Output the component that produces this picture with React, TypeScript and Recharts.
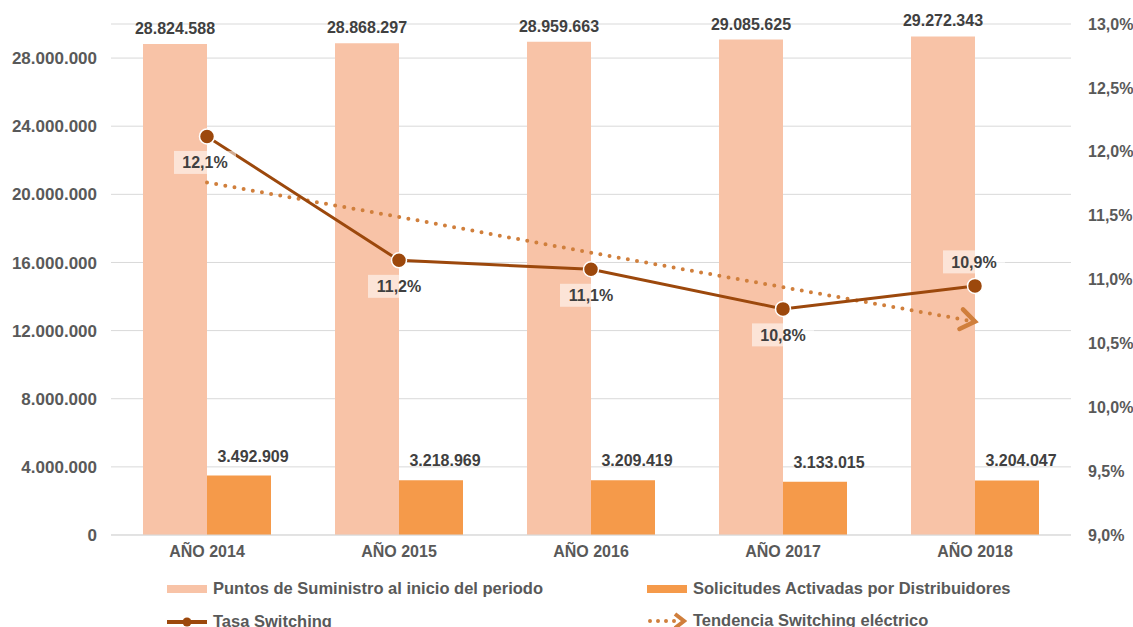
import React from 'react';
import { ComposedChart, Bar, Line, XAxis, YAxis, CartesianGrid, LabelList } from 'recharts';

const years = ['AÑO 2014', 'AÑO 2015', 'AÑO 2016', 'AÑO 2017', 'AÑO 2018'];
const puntosSuministro = [28824588, 28868297, 28959663, 29085625, 29272343];
const solicitudesActivadas = [3492909, 3218969, 3209419, 3133015, 3204047];
const tasaSwitching = [12.12, 11.15, 11.08, 10.77, 10.95];
const tendenciaSwitching = [11.76, 11.49, 11.21, 10.94, 10.67];
const leftTicks = [0, 4000000, 8000000, 12000000, 16000000, 20000000, 24000000, 28000000];
const rightTicks = [9, 9.5, 10, 10.5, 11, 11.5, 12, 12.5, 13];

const FONT = '"Liberation Sans", Arial, sans-serif';
const C_PUNTOS = '#F8C3A7';
const C_SOLIC = '#F59A4A';
const C_TASA = '#9C480C';
const C_TEND = '#D07F3C';
const TXT = '#595959';
const LBL = '#404040';

const fmtMiles = (v: number) => String(Math.round(v)).replace(/\B(?=(\d{3})+(?!\d))/g, '.');
const fmtPct = (v: number) => v.toFixed(1).replace('.', ',') + '%';

const data = years.map((year, i) => ({
    year,
    puntos: puntosSuministro[i],
    solicitudes: solicitudesActivadas[i],
    tasa: tasaSwitching[i],
    tendencia: tendenciaSwitching[i],
}));

const BarLabel = (dx: number, gap: number) => (props: any) => {
    const { x, y, width, value } = props;
    return (
        <text x={x + width / 2 + dx} y={y - gap} textAnchor="middle" fontSize={16} fontWeight="bold" fill={LBL} fontFamily={FONT}>
            {fmtMiles(value)}
        </text>
    );
};

const TasaLabel = (props: any) => {
    const { x, y, value, index } = props;
    const last = index === years.length - 1;
    const cx = x + (index === 0 ? -2 : last ? -1 : 0);
    const cy = last ? y - 24 : y + 26;
    return (
        <g>
            <rect x={cx - 31} y={cy - 11.5} width={62} height={23} fill="rgba(255,255,255,0.55)" />
            <text x={cx} y={cy + 6} textAnchor="middle" fontSize={16} fontWeight="bold" fill={LBL} fontFamily={FONT}>
                {fmtPct(value)}
            </text>
        </g>
    );
};

const legendText: React.CSSProperties = { fontSize: 16.5, fontWeight: 'bold', color: TXT, fontFamily: FONT, marginLeft: 6, whiteSpace: 'nowrap' };
const axisTick = { fontSize: 17, fontWeight: 'bold', fill: TXT, fontFamily: FONT };

const App: React.FC = () => {
    return (
        <div style={{ position: 'absolute', left: 0, top: 0, width: 1133, height: 627, background: '#fff', overflow: 'hidden' }}>
            <svg width={0} height={0} style={{ position: 'absolute' }}>
                <defs>
                    <marker id="trendArrow" markerUnits="userSpaceOnUse" markerWidth={30} markerHeight={30} viewBox="-20 -15 30 30" refX={0} refY={0} orient="auto">
                        <path d="M -14 -10 L 0 0 L -14 10" fill="none" stroke={C_TEND} strokeWidth={4.5} strokeLinecap="round" strokeLinejoin="miter" strokeDasharray="none" />
                    </marker>
                </defs>
            </svg>
            <ComposedChart width={1133} height={627} data={data} margin={{ top: 24, right: 0, left: 0, bottom: 62 }} barGap={0} barSize={64}>
                <CartesianGrid vertical={false} stroke="#D9D9D9" yAxisId="left" />
                <XAxis dataKey="year" height={30} tickSize={0} tickMargin={11} axisLine={{ stroke: '#D9D9D9' }}
                    tick={{ fontSize: 16, fontWeight: 'bold', fill: TXT, fontFamily: FONT }} />
                <YAxis yAxisId="left" width={111} domain={[0, 30000000]} ticks={leftTicks} tickFormatter={fmtMiles}
                    axisLine={false} tickSize={0} tickMargin={14} tick={axisTick} />
                <YAxis yAxisId="right" orientation="right" width={62} domain={[9, 13]} ticks={rightTicks} tickFormatter={fmtPct}
                    axisLine={false} tickSize={0} tickMargin={17} tick={{ ...axisTick, fontSize: 16 }} />
                <Bar yAxisId="left" dataKey="puntos" fill={C_PUNTOS} isAnimationActive={false}>
                    <LabelList dataKey="puntos" content={BarLabel(0, 10)} />
                </Bar>
                <Bar yAxisId="left" dataKey="solicitudes" fill={C_SOLIC} isAnimationActive={false}>
                    <LabelList dataKey="solicitudes" content={BarLabel(14, 14)} />
                </Bar>
                <Line yAxisId="right" dataKey="tendencia" stroke={C_TEND} strokeWidth={4} strokeDasharray="0 9.3" strokeLinecap="round"
                    dot={false} activeDot={false} markerEnd="url(#trendArrow)" isAnimationActive={false} />
                <Line yAxisId="right" dataKey="tasa" stroke={C_TASA} strokeWidth={3}
                    dot={{ r: 7.5, fill: C_TASA, stroke: '#fff', strokeWidth: 1.5 }} activeDot={false} isAnimationActive={false}>
                    <LabelList dataKey="tasa" content={TasaLabel} />
                </Line>
            </ComposedChart>
            <div style={{ position: 'absolute', left: 167, top: 579, display: 'flex', alignItems: 'center' }}>
                <div style={{ width: 40, height: 8, background: C_PUNTOS }} />
                <span style={legendText}>Puntos de Suministro al inicio del periodo</span>
            </div>
            <div style={{ position: 'absolute', left: 647, top: 579, display: 'flex', alignItems: 'center' }}>
                <div style={{ width: 40, height: 8, background: C_SOLIC }} />
                <span style={legendText}>Solicitudes Activadas por Distribuidores</span>
            </div>
            <div style={{ position: 'absolute', left: 167, top: 612, display: 'flex', alignItems: 'center' }}>
                <svg width={40} height={14}>
                    <line x1={0} y1={7} x2={40} y2={7} stroke={C_TASA} strokeWidth={4} />
                    <circle cx={20} cy={7} r={4.5} fill={C_TASA} />
                </svg>
                <span style={legendText}>Tasa Switching</span>
            </div>
            <div style={{ position: 'absolute', left: 647, top: 611, display: 'flex', alignItems: 'center' }}>
                <svg width={40} height={18}>
                    <line x1={3} y1={9} x2={28} y2={9} stroke={C_TEND} strokeWidth={4} strokeDasharray="0 8" strokeLinecap="round" />
                    <path d="M 28 2 L 37 9 L 28 16" fill="none" stroke={C_TEND} strokeWidth={4} />
                </svg>
                <span style={legendText}>Tendencia Switching eléctrico</span>
            </div>
        </div>
    );
};

export default App;
